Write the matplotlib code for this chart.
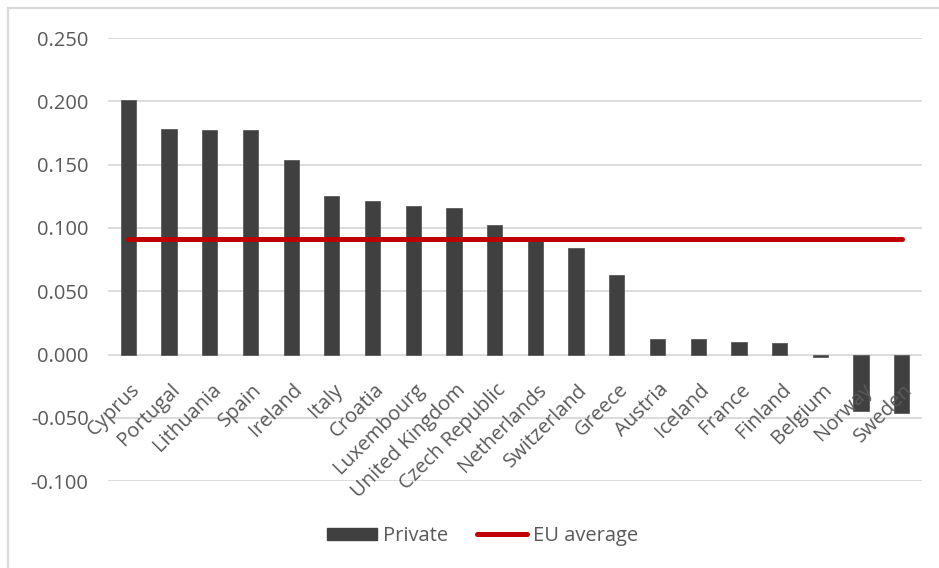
import matplotlib
matplotlib.use("Agg")
import matplotlib.pyplot as plt
from matplotlib.patches import Rectangle
from matplotlib.lines import Line2D

# dados
paises = ['Cyprus', 'Portugal', 'Lithuania', 'Spain', 'Ireland', 'Italy', 'Croatia',
          'Luxembourg', 'United Kingdom', 'Czech Republic', 'Netherlands', 'Switzerland',
          'Greece', 'Austria', 'Iceland', 'France', 'Finland', 'Belgium', 'Norway', 'Sweden']
privado = [0.201, 0.178, 0.177, 0.177, 0.154, 0.125, 0.121,
           0.117, 0.116, 0.102, 0.091, 0.084,
           0.063, 0.012, 0.012, 0.010, 0.009, -0.002, -0.045, -0.046]
media_ue = 0.091
yticks = [-0.100, -0.050, 0.000, 0.050, 0.100, 0.150, 0.200, 0.250]

plt.rcParams['font.family'] = ['Open Sans', 'DejaVu Sans']
cinza_txt = '#595959'
cinza_grade = '#D9D9D9'

fig = plt.figure(figsize=(9.39, 5.68), dpi=100)
ax = fig.add_axes([0.115, 0.153, 0.867, 0.780])

x = list(range(len(paises)))
ax.bar(x, privado, width=0.375, color='#404040', edgecolor='#5a5a5a', linewidth=0.6,
       zorder=3, label='Private')
ax.plot([x[0], x[-1]], [media_ue, media_ue], color='#C00000', lw=3.6,
        solid_capstyle='round', zorder=4, label='EU average')

ax.set_xlim(-0.5, len(paises) - 0.5)
ax.set_ylim(-0.100, 0.250)
ax.set_yticks(yticks)
ax.set_yticklabels(['%.3f' % v for v in yticks])
ax.tick_params(axis='y', length=0, pad=14, labelsize=14.5, labelcolor=cinza_txt)
ax.set_xticks([])
for v in yticks:
    ax.axhline(v, color=cinza_grade, lw=1.3, zorder=1)
for s in ax.spines.values():
    s.set_visible(False)

# rótulos inclinados junto ao eixo zero
for i, nome in enumerate(paises):
    ax.text(i + 0.03, -0.020, nome, rotation=45, ha='right', va='top',
            rotation_mode='anchor', fontsize=14.5, color=cinza_txt, zorder=5)

handles = [Rectangle((0, 0), 1, 1, color='#404040'),
           Line2D([0], [0], color='#C00000', lw=3.6, solid_capstyle='round')]
leg = fig.legend(handles, ['Private', 'EU average'], loc='center',
                 bbox_to_anchor=(0.514, 0.056), ncol=2, frameon=False,
                 fontsize=14.5, handlelength=2.5, handleheight=0.6,
                 handletextpad=0.3, columnspacing=1.4)
for t in leg.get_texts():
    t.set_color(cinza_txt)

# moldura do gráfico
fig.add_artist(Rectangle((8 / 939, -0.2), 1.2, 0.2 + 1 - 8 / 568, transform=fig.transFigure,
                         fill=False, edgecolor=cinza_grade, lw=1.6))

fig.savefig('out.png', dpi=100)
